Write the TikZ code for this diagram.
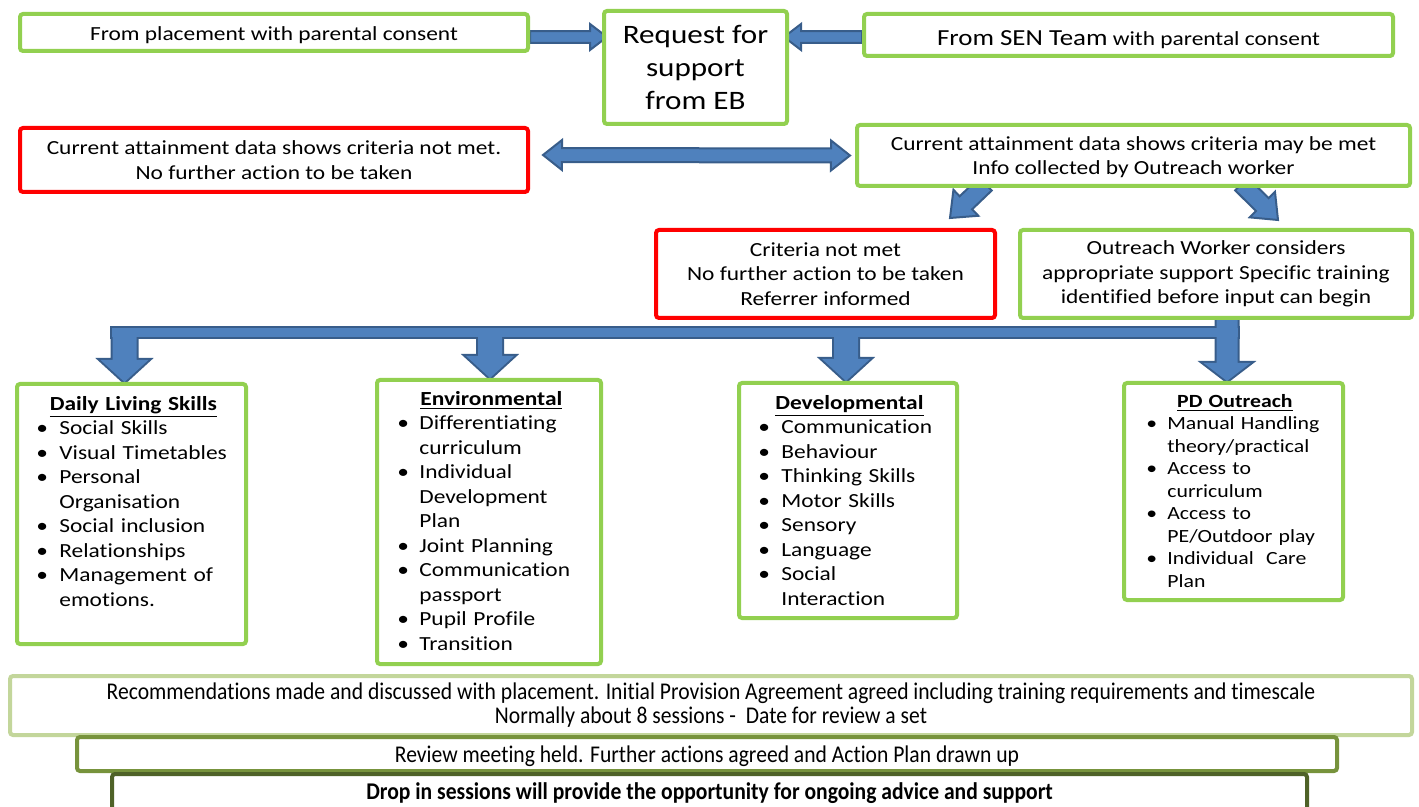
\documentclass[tikz,border=0pt]{standalone}
\usepackage{fontspec}
\setmainfont{Carlito}[FakeStretch=1.17,Ligatures=NoCommon]
\newfontfamily\narrowfont{Carlito}[FakeStretch=0.9,Ligatures=NoCommon]
\usetikzlibrary{calc,positioning,backgrounds}

\definecolor{boxgreen}{HTML}{92D050}
\definecolor{boxred}{HTML}{FF0000}
\definecolor{arrowfill}{HTML}{4F81BD}
\definecolor{arrowline}{HTML}{385D8A}
\definecolor{palegreen}{HTML}{C3D69B}
\definecolor{olivegreen}{HTML}{77933C}
\definecolor{darkolive}{HTML}{4F6228}

% list helpers
\newcommand\listhead[1]{{\centering\textbf{\underline{#1}}\par}}
\newcommand\itm[2][11.5pt]{\par\hangindent=#1\hangafter=1\noindent\makebox[#1][l]{\textbullet}#2\par}
\newcommand\sinktext[2]{\raisebox{-#1}[\height][\depth]{#2}}

% block arrow: [options]{from}{to}{shaft half}{head half}{head length}
\newcommand\blockarrow[6][]{%
  \coordinate (ba-h) at ($(#3)!#6!(#2)$);
  \path[barrow,#1] ($(#2)!#4!90:(#3)$) -- ($(ba-h)!#4!90:(#3)$) -- ($(ba-h)!#5!90:(#3)$)
    -- (#3) -- ($(ba-h)!#5!-90:(#3)$) -- ($(ba-h)!#4!-90:(#3)$) -- ($(#2)!#4!-90:(#3)$) -- cycle;}
\newcommand\dblarrow[6][]{%
  \coordinate (da-h1) at ($(#2)!#6!(#3)$);
  \coordinate (da-h2) at ($(#3)!#6!(#2)$);
  \path[barrow,#1] (#2) -- ($(da-h1)!#5!90:(#3)$) -- ($(da-h1)!#4!90:(#3)$) -- ($(da-h2)!#4!90:(#3)$)
    -- ($(da-h2)!#5!90:(#3)$) -- (#3) -- ($(da-h2)!#5!-90:(#3)$) -- ($(da-h2)!#4!-90:(#3)$)
    -- ($(da-h1)!#4!-90:(#3)$) -- ($(da-h1)!#5!-90:(#3)$) -- cycle;}

\tikzset{
  barrow/.style={draw=arrowline, fill=arrowfill, line width=1pt, line join=miter},
  box/.style={draw=boxgreen, line width=2pt, fill=white, rounded corners=1.5pt, inner sep=0pt,
    align=center, font=\fontsize{10}{12.25}\selectfont},
  redbox/.style={box, draw=boxred},
  listtxt/.style={anchor=north west, inner sep=0pt, align=left, font=\fontsize{10}{12.25}\selectfont},
  lowbox/.style={box, font=\narrowfont\fontsize{12}{12}\selectfont},
}

\begin{document}
\begin{tikzpicture}[x=0.5pt,y=-0.5pt]
  \useasboundingbox (0,0) rectangle (1419,807);

  % top row
  \node[box, minimum width=254pt, minimum height=18.5pt] (placement) at (274,32.5)
    {\sinktext{1.5pt}{From placement with parental consent}};
  \node[box, minimum width=91.5pt, minimum height=56.5pt, font=\fontsize{13.3}{16.5}\selectfont]
    (request) at (695.5,67.5) {Request for\\support\\from EB};
  \node[box, minimum width=264.5pt, minimum height=21pt] (sen) at (1128.5,35)
    {\sinktext{2.5pt}{{\fontsize{11.5}{12.25}\selectfont From SEN Team} with parental consent}};

  % attainment
  \node[redbox, minimum width=254pt, minimum height=32pt] (nometA) at (274,160)
    {Current attainment data shows criteria not met.\\No further action to be taken};
  \node[box, minimum width=276.5pt, minimum height=30.5pt] (maybe) at (1133.5,155.5)
    {\sinktext{1pt}{\begin{tabular}{@{}c@{}}Current attainment data shows criteria may be met\\[-0.5pt]
     Info collected by Outreach worker\end{tabular}}};
  \node[redbox, minimum width=169.5pt, minimum height=44pt] (nometB) at (825.5,274)
    {Criteria not met\\No further action to be taken\\Referrer informed};
  \node[box, minimum width=196pt, minimum height=44pt] (outreach) at (1216,274)
    {Outreach Worker considers\\appropriate support Specific training\\identified before input can begin};

  % support areas
  \node[box, minimum width=114.5pt, minimum height=130pt] (daily) at (131.5,514) {};
  \node[listtxt, text width=97pt] (dailytext) at (36,396) {\listhead{Daily Living Skills}
    \itm{Social Skills}\itm{Visual Timetables}\itm{Personal\newline Organisation}
    \itm{Social inclusion}\itm{Relationships}\itm{Management of\newline emotions.}};
  \node[box, minimum width=112pt, minimum height=142pt] (env) at (489,522) {};
  \node[listtxt, text width=94pt] (envtext) at (397,391) {\listhead{Environmental}
    \itm[11pt]{Differentiating\newline curriculum}\itm[11pt]{Individual\newline Development\newline Plan}
    \itm[11pt]{Joint Planning}\itm[11pt]{Communication\newline passport}\itm[11pt]{Pupil Profile}
    \itm[11pt]{Transition}};
  \node[box, minimum width=109pt, minimum height=117.5pt] (dev) at (848,500.5) {};
  \node[listtxt, text width=91pt] (devtext) at (758,395) {\listhead{Developmental}
    \itm{Communication}\itm{Behaviour}\itm{Thinking Skills}\itm{Motor Skills}
    \itm{Sensory}\itm{Language}\itm{Social\newline Interaction}};
  \node[box, minimum width=109.5pt, minimum height=108.5pt] (pd) at (1233.5,491.5) {};
  \node[listtxt, text width=88.5pt, font=\fontsize{9.3}{11.25}\selectfont] (pdtext) at (1146,394)
    {\listhead{PD Outreach}
    \itm[10.5pt]{Manual Handling\newline theory/practical}\itm[10.5pt]{Access to\newline curriculum}
    \itm[10.5pt]{Access to\newline PE/Outdoor play}\itm[10.5pt]{Individual\ \ Care\newline Plan}};

  % bottom
  \node[lowbox, draw=palegreen, minimum width=701pt, minimum height=29.5pt] (recomm) at (711,705.5)
    {Recommendations made and discussed with placement. Initial Provision Agreement agreed including training requirements and timescale\\
     Normally about 8 sessions -\ \ Date for review a set};
  \node[lowbox, draw=olivegreen, minimum width=630pt, minimum height=17pt] (review) at (707,754)
    {\sinktext{1pt}{Review meeting held. Further actions agreed and Action Plan drawn up}};
  \node[lowbox, draw=darkolive, minimum width=597.5pt, minimum height=19pt] (drop) at (709.5,793)
    {\bfseries Drop in sessions will provide the opportunity for ongoing advice and support};

  \begin{pgfonlayer}{background}
    \coordinate (a1s) at ($(placement.east)+(0,4.5)$);
    \coordinate (a1e) at ($(request.west)+(5,-30.5)$);
    \coordinate (a2s) at ($(sen.west)+(0,2)$);
    \coordinate (a2e) at ($(request.east)+(-5,-30.5)$);
    \blockarrow{a1s}{a1e}{2.9pt}{6.5pt}{8.5pt}
    \blockarrow{a2s}{a2e}{2.9pt}{6.5pt}{8.5pt}

    \coordinate (d1) at ($(nometA.east)+(13,-5)$);
    \coordinate (d2) at ($(maybe.west)+(-5,0)$);
    \dblarrow{d1}{d2}{3.5pt}{7.5pt}{9.5pt}

    \coordinate (dl1) at ($(maybe.south)+(-148,-4)$);
    \coordinate (dl2) at ($(nometB.north east)+(-47,-10)$);
    \coordinate (dr1) at ($(maybe.south)+(108,-4)$);
    \coordinate (dr2) at ($(outreach.north)+(62,-8)$);
    \blockarrow{dl1}{dl2}{4.5pt}{9pt}{11pt}
    \blockarrow{dr1}{dr2}{4.5pt}{9pt}{11pt}

    % bus to the four areas
    \coordinate (busw) at (112,328);
    \coordinate (buse) at (1238,337);
    \coordinate (b1) at (124.5,332);
    \coordinate (b2) at (490,332);
    \coordinate (b3) at (846,332);
    \coordinate (b4) at (1227,332);
    \coordinate (t0) at (b4 |- outreach.south);
    \coordinate (t1) at (b1 |- daily.north);
    \coordinate (t2) at (b2 |- env.north);
    \coordinate (t3) at (b3 |- dev.north);
    \coordinate (t4) at (b4 |- pd.north);
    \draw[barrow, line width=2pt] (busw) rectangle (buse);
    \foreach \s/\t in {b1/t1,b2/t2,b3/t3}
      {\blockarrow[line width=2pt]{\s}{\t}{6pt}{12pt}{11pt}}
    \blockarrow[line width=2pt]{t0}{t4}{5.25pt}{11.75pt}{9pt}
    \fill[arrowfill] (busw) rectangle (buse);
    \foreach \s/\t in {b1/t1,b2/t2,b3/t3}
      {\blockarrow[draw=none]{\s}{\t}{6pt}{12pt}{11pt}}
    \blockarrow[draw=none]{t0}{t4}{5.25pt}{11.75pt}{9pt}
  \end{pgfonlayer}
\end{tikzpicture}
\end{document}
